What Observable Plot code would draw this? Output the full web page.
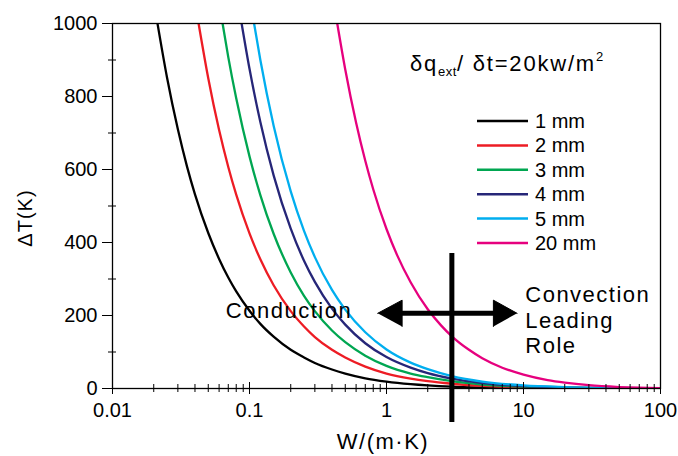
<!DOCTYPE html>
<html><head><meta charset="utf-8">
<script src="https://cdn.jsdelivr.net/npm/d3@7"></script>
<script src="https://cdn.jsdelivr.net/npm/@observablehq/plot@0.6"></script>
<style>body{margin:0;background:#fff}</style>
</head><body><div id="chart"></div>
<script>
const FONT = "Arial, 'Liberation Sans', sans-serif";
const seriesNames = ["1 mm", "2 mm", "3 mm", "4 mm", "5 mm", "20 mm"];
const seriesColors = ["#000000", "#ed1c24", "#00a651", "#262678", "#00aeef", "#e6007e"];

const w1  = [0.0213,0.025,0.03,0.035,0.04,0.05,0.06,0.07,0.08,0.1,0.12,0.15,0.2,0.25,0.3,0.4,0.5,0.7,1,1.5,2,3,5,10,20,50,100];
const dT1 = [1000,852,710,608,532,426,355,304,266,213,177,142,106,85,70,52,41,28,19,12,8.5,5,2.5,1,0.5,0.2,0.1];
const w2  = [0.0425,0.05,0.06,0.07,0.08,0.1,0.12,0.15,0.2,0.25,0.3,0.4,0.5,0.7,1,1.5,2,3,5,10,20,50,100];
const dT2 = [1000,850,708,607,531,425,354,283,212,170,141,106,85,60,41,27,20,13,7,3,1.5,0.5,0.2];
const w3  = [0.0636,0.07,0.08,0.1,0.12,0.15,0.2,0.25,0.3,0.4,0.5,0.7,1,1.5,2,3,5,10,20,50,100];
const dT3 = [1000,908,795,636,530,424,318,254,212,159,127,90,62,41,31,20,11,5,2.2,0.8,0.3];
const w4  = [0.0876,0.1,0.12,0.15,0.2,0.25,0.3,0.4,0.5,0.7,1,1.5,2,3,5,10,20,50,100];
const dT4 = [1000,876,730,584,438,350,292,219,175,124,86,57,42,27,15,6.5,3,1,0.4];
const w5  = [0.108,0.12,0.15,0.2,0.25,0.3,0.4,0.5,0.7,1,1.5,2,3,5,10,20,50,100];
const dT5 = [1000,900,720,540,432,360,270,216,154,107,71,53,34,19,8.5,4,1.4,0.6];
const w20  = [0.437,0.5,0.6,0.7,0.8,1,1.2,1.5,2,2.5,3,4,5,7,10,15,20,30,50,70,100];
const dT20 = [1000,874,728,624,546,437,364,291,217,173,143,106,83,57,38,23,16,9,4,2,1];

const seriesW = [w1, w2, w3, w4, w5, w20];
const seriesT = [dT1, dT2, dT3, dT4, dT5, dT20];

const xMajor = [0.01, 0.1, 1, 10, 100];
const xMinor = [0.02,0.03,0.04,0.05,0.06,0.07,0.08,0.09,0.2,0.3,0.4,0.5,0.6,0.7,0.8,0.9,2,3,4,5,6,7,8,9,20,30,40,50,60,70,80,90];
const yMajor = [0, 200, 400, 600, 800, 1000];
const yMinor = [100, 300, 500, 700, 900];

// annotations (data coordinates)
const dividerX = [3];
const dividerY = [-93, 370];
const arrowY = 206;
const arrowHeads = [
  {head: "L", W: 0.862, v: 206}, {head: "L", W: 1.30, v: 242}, {head: "L", W: 1.30, v: 170},
  {head: "R", W: 8.98, v: 206}, {head: "R", W: 6.03, v: 242}, {head: "R", W: 6.03, v: 170}
];
const leftLabel = {text: "Conduction", W: 0.0672, v: 193};
const rightLabel = {text: "Convection\nLeading\nRole", W: 10.3, v: 286};

const rows = seriesNames.map((name, i) => seriesW[i].map((w, j) => ({series: name, W: w, dT: seriesT[i][j]})));

const plot = Plot.plot({
  width: 678, height: 456,
  marginLeft: 112, marginRight: 18, marginTop: 23, marginBottom: 68,
  style: {fontFamily: FONT, fontSize: "20px", background: "white", color: "black", overflow: "visible"},
  x: {type: "log", domain: [0.01, 100], label: null},
  y: {domain: [0, 1000], label: null},
  marks: [
    ...rows.map((r, i) => Plot.line(r, {x: "W", y: "dT", stroke: seriesColors[i], strokeWidth: 2.3, curve: "monotone-x", clip: true})),
    Plot.frame({stroke: "black", strokeWidth: 1.3}),
    Plot.axisY({ticks: yMajor, tickSize: 10, tickPadding: 5, label: null, tickFormat: d => String(d), fontSize: 20}),
    Plot.axisY({ticks: yMinor, tickSize: 8, dx: 4, text: null, label: null}),
    Plot.axisX({ticks: xMajor, tickSize: 12, dy: -6, text: null, label: null}),
    Plot.axisX({ticks: xMinor, tickSize: 8, dy: -4, text: null, label: null}),
    Plot.axisX({ticks: xMajor, tickSize: 0, tickPadding: 14, tickFormat: d => String(d), label: null, fontSize: 20}),
    Plot.ruleX(dividerX, {y1: dividerY[0], y2: dividerY[1], stroke: "black", strokeWidth: 5}),
    Plot.ruleY([arrowY], {x1: 1.1, x2: 7, stroke: "black", strokeWidth: 5}),
    Plot.line(arrowHeads, {x: "W", y: "v", z: "head", fill: "black", stroke: "black", strokeWidth: 1}),
    Plot.text([leftLabel], {x: "W", y: "v", text: "text", textAnchor: "start", lineAnchor: "bottom", fontSize: 22, ariaDescription: "annot"}),
    Plot.text([rightLabel], {x: "W", y: "v", text: "text", textAnchor: "start", lineAnchor: "top", lineHeight: 1.16, fontSize: 22, ariaDescription: "annot"})
  ]
});

const svg = d3.select(plot);
svg.selectAll('g[aria-description="annot"] text').attr("letter-spacing", 1.5);

// axis titles
svg.append("text").attr("transform", "translate(25,218) rotate(-90)")
  .attr("text-anchor", "middle").attr("dominant-baseline", "central")
  .attr("font-family", FONT).attr("font-size", 20).attr("letter-spacing", 1).text("ΔT(K)");
svg.append("text").attr("x", 383).attr("y", 449).attr("text-anchor", "middle")
  .attr("font-family", FONT).attr("font-size", 22).attr("letter-spacing", 1.5).text("W/(m·K)");

// legend
const leg = svg.append("g").attr("font-family", FONT).attr("text-anchor", "start");
const title = leg.append("text").attr("x", 410).attr("y", 71).attr("font-size", 22).attr("letter-spacing", 1.8);
title.append("tspan").text("δq");
title.append("tspan").attr("dy", 5).attr("font-size", 13).attr("letter-spacing", 0.5).text("ext");
title.append("tspan").attr("dy", -5).text("/ δt=20kw/m");
title.append("tspan").attr("dy", -10).attr("font-size", 13).text("2");
seriesNames.forEach((n, i) => {
  const y = 121 + i * 24.4;
  leg.append("line").attr("x1", 477).attr("x2", 528).attr("y1", y).attr("y2", y)
    .attr("stroke", seriesColors[i]).attr("stroke-width", 2.5);
  leg.append("text").attr("x", 535).attr("y", y + 7).attr("font-size", 20).text(n);
});

document.getElementById("chart").appendChild(plot);
</script>
</body></html>
